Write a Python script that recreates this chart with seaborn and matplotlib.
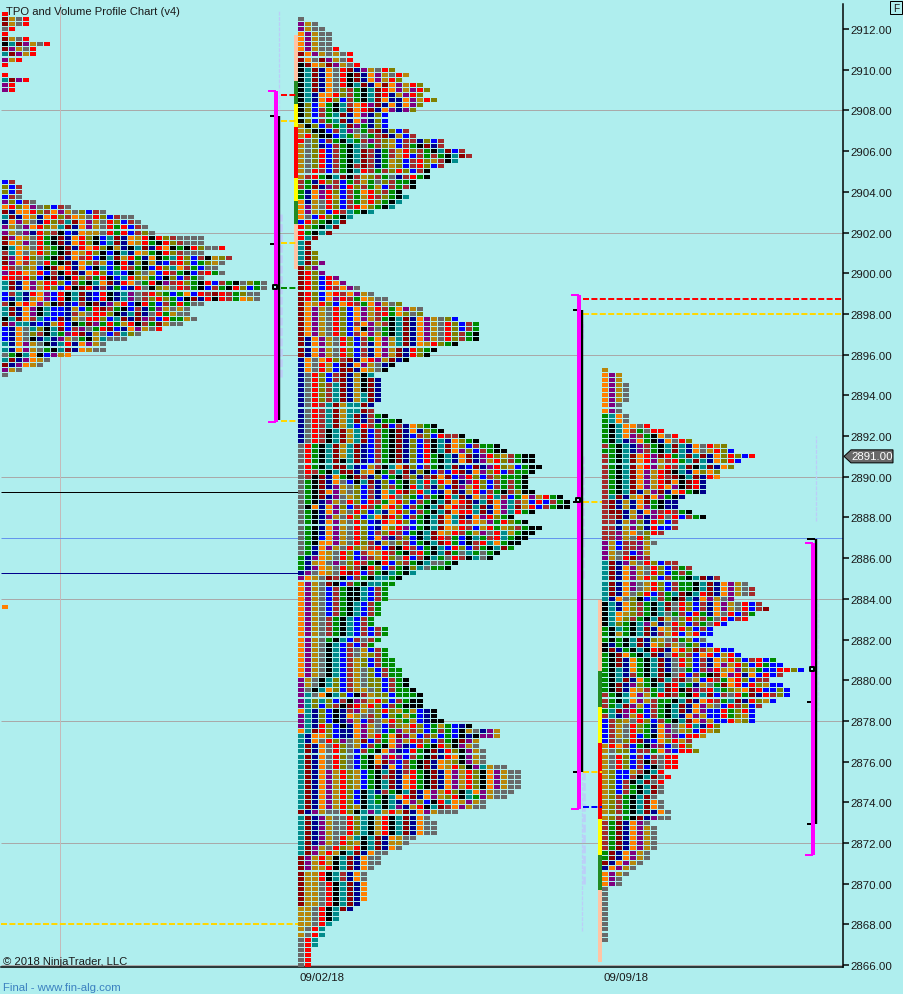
import matplotlib
matplotlib.use("Agg")
import matplotlib.pyplot as plt
from matplotlib.path import Path
from matplotlib.patches import Polygon, Rectangle
from matplotlib.ticker import MultipleLocator, FormatStrFormatter
import pandas as pd
import seaborn as sns

TICK = 0.25
COLORS = dict(k="#000000", r="#FF0000", m="#8B0000", b="#0000FF", n="#00008B", g="#008B00",
              t="#008B8B", o="#FF8000", p="#800080", y="#B8860B", s="#696969", w="#A52A2A", l="#808000")

SLIVER = ["r", "mysr", "mysr", "sr", "r", "mysr", "ktmpy sr", "mpysr", "tmpyr", "pyr", "r", "", "r", "tmpr", "pr", "pr"]
STRAY = ["o"]
LEFT = ["bw", "lbw", "lbw", "bws", "plbws", "orlop slbws", "mnoor lwopy slbws", "tmnoy norlw oysrl bwss",
"nopys nrlwt mopys rlbws", "pyspo rlytm nopys rgrbw s", "pyspn rlwkb noyys rgrbw ls",
"mpoys rgkmn orlkb tmnoy rkrlw ssss", "moyps rgkmn orlkb tmnoy rgkrl wsss",
"ktoys rlgkm nrorl kynkt mnrok gkrls sr", "wtosy rlgkm oyrlk bktno ygkrl wsss",
"mporl sgkmn owrbk tmyrg nokgt rlbwk ylw", "mpowy srgkm nolwy bkrnl kynbw rlbgl ys",
"rwsly bkmor nobkt bgrwg kbrlt owgbs s", "prroy rbwkr mnorl btbkl sybrw gkbwr gs",
"rrwrl bkmnk rlwgr kbtrl ygbkl bwgs", "tmnop yrrlb wgkto mnros grkpw rlgkr bwgks lgs",
"tmnop yrlbr kmrnw ngbnr sklys rwgkb wgkrl bgs", "bwtnr opbrk tmnbr kntps wrlgb gobrw mrwgl ss",
"bntny opbrk tmnbr kntps wlrlg bkmnr krwgo ys", "wkoro pykmn bwkmn pyrbk rgbwg rgss",
"tmnop ktbbn ybgrm wgkbw ngpys ys", "tmnop ktbbn wysrr lkntm nsrgy ss", "ktmow tbbmn ysrrl btmnm pwbrg gys",
"mpttn bnyrb kgmpg rgyrk wgmys s", "bnost lktmb wpsgr mbnop ysr", "bnosl wktgp rmnys bwtls",
"bnosk ntnpy sgkyt sss", "tnopy skntr nopys", "tnopy sgktm noyss", "sgkto kbpyo", "tmnpo ys", "mnpoy s", "pys", "s"]

MIDDLE = ["s", "pys", "pyss", "opyss", "opyss", "opyss", "opyss r", "mopys ysr", "mosmp ysr", "kmoym pysr",
"ktmno srmnp ysrl", "ktmno srkmn opysr y", "ktmno srkmn opyrl", "ktmno srktm nomop yrl", "ktmno slwgk tmrop yprl",
"ktnoo rlwgk tmrny prl", "ktnor lbwgk tmonn opyrl", "klbog ktwor pmnon opl", "klbwg ktmor mnopn pl", "klbwg tmnop nlb",
"klbwg tmnop nlb", "yklbw gtmpg nlb", "ylkkb wtpsg wmnlb w", "yrlkk btgys gwmny bw", "rslbw gktgw pwlyb wwnlb w",
"yslnb wgkts gwlyb wgkmn w", "yslrb wgktm wngwy rlwgk tmbw", "yslrb wgktm wngwy rbwgw gktmw", "yslrb wgktm wngyl bwrly wkt",
"yslrb wgkwm wngyl bwrlb w", "ysrwb wgktr wgwlr lbwk", "ywrgk tmkwy lwgsn wrgk", "wgnrl wbgwy gslwg gk", "wgmnp wbrlw gybwg wk",
"gnopr lbwgo rlwgk", "gnopr ybwgy rwlgk t", "onysr lbwgy rlgkt", "opysr lbwro lgkt", "opylb rwtgk t", "osbrl gkt", "brlgk tm",
"rlgkt m", "rgktm", "rtm", "tm", "tm", "tml", "tml", "tmlp", "mlp", "mrlp", "mrlbr p", "mrlbr op", "mrlbr wops", "mrlbo rwopy s",
"mrlbo prwgo yss", "moyrl borwg opysl", "mopys rlbop yrwgo pys", "mopys rlbop ywrgo lsl", "mopys rlbop ywgkt mnopy slb",
"mopys rlbwo pywkt mnopy srlbw g", "mopys rlbok psgkt mnopy srlbw g", "mopys rlbwo pygkt mnopy srlwg k", "mnopy srlbw gopyt mnopy srlwg k",
"mnopy srlbw nopyt mnoyr lgk", "mnopy srlbw nopym nrlgk", "mnopy srlbw nopym nrlk", "nosor lwmno rpymn k", "nosry bmnop ysnk",
"nosry bmmno ysk", "nsrlb wmnyk t", "nsrlb wmnyk mn", "nsrlw tmnyk mn", "nsrlw tmnyk mn", "nsrlw tmnyt mn", "nsrlw tmnyt mn",
"nsrwt myttm n", "nsrwt myttm w", "nsrwt mytmn wgk", "nsrwt mytmn wnggk", "nsrwt mytbr wgmbw nolgk", "nsrwk tmytm bwgkm nonlg k",
"nsrwk tmytm bwgkm nbwlb rwwk", "nsrwk tmytm bwgkm nlbwk tnolg k", "srgkt mytmn bwgkm nlbrk tmolb wggk", "srgkt mytmn bwgkm nlbrk tmopl bwgkk",
"srgkt mytmn bwgkm nlbrg ktnom nprly wgkk", "srgkt mktmn bwgkm nlbrg ktnom npyrl wgkk", "srgkt mmtnb ywkto mlbwg ktmnb mnprl ybgkk",
"srwgk tmmny okgwt mnlkb wbrmn oplrb wggk", "swkmn ogkmw nlbgk wlnwm ombpr lbwlg ggk", "sgkmn osbkt mnlbg kltrt romnp rlbwg wgk",
"sgkmn pyslb wnlwg krtwn lbmpy rlbwg wgk", "sgkmo pyslb wnotr mlrtb nomny rbwgk wlkk", "sgkmn psylb wnors lgbwg krtmn osrtw bgopy rgk",
"sgknp ysrlb rwgor lbwgk tmorm ntmop twybr bwgk", "skono plbwr wgorl bwgkt morwm tmnop tmyrb wgkk", "sgkno pysrl btnor lbwgk tmorr tmnop trgk",
"sgknp ysrlb tomrl bwgkt motmn oprlg k", "sgkno pysrl bnror lbgkt motrw oypgr lgk", "sgkno pysrl bnolr pbgkt moyrw byrgy lwgkk",
"sgkno pysrl bwlrw bgktm oyrwg ypsrt ygkk", "sgkbo pysrl bopnw lbktm rwgbk tgwrt gkk", "sgkoo pysrl wnysl wbgkt mrgbk wrtog kk",
"sgnop ysrly wrbmk rwbgk tbrlb wgktm g", "sgnoy srlbw oyrwg kwrgk tmgst gsgk", "gnpoy srlbp wyrls rbwkt gsrwk tsk", "gnyos pslrw gkrbl wgkts sgk",
"gnpoy srlwk rlbwg kltsg gk", "npsoy srmrb wgktg kt", "poysm wkbwg kttgk", "opysm kbwgk ttgg", "opysb wgkkt bwg", "opysb wgkkt bwg", "opysb wgkkt bwg",
"opysb wgktb wg", "opysb wgktb wg", "opysb wgktb wg", "opysw gktbw g", "opysw gktbw g", "opysw gktbw bwg", "opysw gktbw bwg", "opysg ktbws wg",
"opysk tbwbw g", "opysk tbwsy bwg", "opysk tbwsy lwg", "opysk tbwyl bwgg", "opysk tbwyl bwgg", "opysk tbwys lbwgg", "opysk tbwys lbwgg",
"pyskt lbwys llbwg k", "pyskt lbwys llbwg k", "pskto lbwyy slbwg gk", "ptsok tlbkw yllbg ggk", "ptltl bwkpw yrlbw gkk", "ptlbl wkmry rlbwg kkk",
"otnlb knwpy slrly gybnk", "ptnlb knoys wlblg ygbnk", "ptnlb knpyb wsyrl gybnk k", "ptnrl bknop ysbwl yrlbg ygbnk",
"otmrl bnnop ysbgp ywlbg wgbky snpy", "tnool bnnop yrgom pybwl bgbkn kppy", "tnosr lpsym bwgop yrwlb wgkmp y", "tmnos rlsyb wgkop nbrgk rlkpy s",
"tmnos rlsbw gkopn brgkm nrlkp ys", "tmnos rlsbg koprp bwgkm nrokp ys", "tmnos rlsbg kompb wgkmn oylkp ys", "tmnos rlsbg kmnob wgkmn oyrlk ptyss",
"tmnop yrlyb gktmn wrgkm nopyr lkopy ss", "tmnop yrlyb gkwmn orgkm nopyr lkopy ss", "tmnop yrlyb gktmn orgkm nopyr lkopy ss", "tmnop yrlyb gktmn orgkm nopyr lkopy ss",
"tmnop yrlbk tnwgk tmnop yrlkt opyss s", "tmnop yrlbk tgkto rmnop ylrkt gpyss", "tmnop yrlbk tgktn oplbk rtoyp ys", "tmnop yrlyk ttktp nyrkt mwopy ss",
"mnpys srlkt ptyry mnopy sss", "tmnpy ssrlt kyrkt mnos", "tmnpy ssrlt kyrkt mnoss", "tmnpy ssrlt kyrkt mnoss", "tmnpy ssrlt kyrkt mnoss", "tmnpy srytk tmnoy ss",
"tmnpy srlyk tmnyy s", "tmpys rlyrk tmnos", "tmpyr yktmn oss", "mpyry ktmno ss", "mpyry ktmno ss", "mpyyr ktmno s", "myyrk twnos", "myyrk twnos", "myysr ktmno",
"myysr ktmno", "myysr ktmno", "myysr ktmno", "myysr ktmn", "yysrk tmn", "yysrk t", "yysrk t", "yysrt", "ysrt", "ysrt", "srt", "srt", "sr", "sr", "sr", "sr"]

RIGHT = ["y", "opy", "opy", "opys", "opys", "opys", "opys", "ops", "ops", "gtos", "gtos", "gktoo sr", "gktow gsrr", "gktop wgkos r", "gktnp ogkno srl",
"wgktn pwgkt mtnos ryl", "ggktn pwgkt mtnos yrlb", "wgktm orpmr gtmtm nolrl br", "wgktm orpyw rgtmt nolrb", "wgktm orpyr wtmkt mnol", "wgktm opyrm ktnol ol",
"wgktm opyrw mktmn ro", "wgktm opyrm okmrn", "wgktm opyro pkmrn", "wgktm nypmn orgkn", "wtmny omopg kn", "wmnyn omgkn n", "wmnyn opgkn n", "wmmny nopwr wgk",
"wwmny pnprs rbwgk", "wwnyp lnrlb w", "wwnyp lnrbb w", "wwpyo slrw", "wwpys rl", "pybww pys", "pybww py", "pyswb py", "pysrm pw", "tmnpy srlbw w",
"tmnop ysrlb wgw", "tmnop ysrlb gwg", "tmnop yrlbw ggktm nw", "tmnop syrlb wggkt mnopy s", "tmnop syrlb wggkt mnopy sw", "tmnos lrbwg tmktr mnopy sw", "tnosl kbtwg kmtno pysp",
"ktnol wgktm srlbw nopys rbw", "ktnol wgktm srlbw nopys rbwm", "ktoyl wgkts gwbrg nosrb wg", "ktolw gktmy slrlw gsrbw r", "ktlgk tpyns rlbwg srb",
"gktgk tmnoy wrlbw b", "gkygk tmnwy rbyrb b", "gkgkt mnlys wglbs", "kngkt mnolw ysglb b", "kmngk tkrmn orlmw yrbb", "gkmog ktmns rlwbo rbyrb",
"gkmno gktmn srlbw noyrl bwrbg", "gkmno gktmn srlbw nopyr lbrgb b", "gktno gktmn ssgbw pryop lygbb rrlb", "gktnw gktmk srbwg kmopr nobrb w", "gktmn ogkmt wmsyb rwgor lbww",
"gkmnp lgktm rtgny sgmor brlyb b", "gkmno ywgtm rkmpw rtgly omrbb lb", "wgkto pygrm wgkrt mbwsr gmnrw lb", "wgkto pywgg ktmno rwgtm nrlyb", "wgtmp ybwgk tmnop ysbrw lbw",
"gtmpr gbwgk tmnop bbrgl rb", "wtnpy rbwgk tnopy bbrgl yb", "bwlys rlbwg ktmop ybbry lb", "bwysr lgnop syrtn rl", "bwysr lgnop sylbr yl", "bwysr bgkow pbrry",
"bwslr mnbol ryw", "yrowb gkpwb srl", "ysllb wwgop brrl", "ysrlb wbwsr r", "ysrlb wkwsr r", "ysrlb wbksr r", "ylbby wktr", "ylbbw ktmsr", "ylbwk tmsr", "ylbwg ktms", "ylbwg ktms",
"ylwgk tms", "ylwgk tmos", "ylwgk tmos", "ylwgk tmnos", "ylwgk mnpss", "wgmno ps", "wgmno pys", "wgmno pys", "wgmno pys", "wgmno pys", "wgmno pys", "gmnop ys", "gmnop ys", "mnopy s", "nopys", "opys", "ops", "ops",
"s", "s", "s", "s", "s", "s", "s", "s", "s", "s", "s"]

PROFILES = [(SLIVER, 2912.75, 5), (STRAY, 2883.6, 5), (LEFT, 2904.5, 5), (MIDDLE, 2912.5, 301), (RIGHT, 2895.25, 605)]

GRID_LEVELS = [2908, 2902, 2896, 2890, 2884, 2878, 2872, 2866]
SIDE_BARS = [
    (296, [2911.7, 2909.45, 2908.3, 2907.2, 2904.7, 2903.55, 2902.4, 2900.2]),
    (600, [2883.94, 2880.45, 2878.68, 2876.91, 2873.18, 2871.41, 2869.69, 2866.15]),
]
SIDE_COLORS = ["#FFC4A4", "#228B22", "#FFFF00", "#FF0000", "#FFFF00", "#228B22", "#FFC4A4"]
RANGES_MAGENTA = [(276, 2908.95, 2892.7), (579, 2898.95, 2873.67), (813, 2886.74, 2871.41)]
RANGES_BLACK = [(279, 2907.72, 2892.79), (582, 2898.2, 2875.49), (816, 2886.94, 2872.93)]
BLACK_TICKS = [(270, 274, 2907.72), (270, 274, 2901.45), (573, 577, 2898.2), (573, 577, 2875.49),
               (573, 577, 2888.75), (807, 815, 2886.94), (807, 811, 2878.93), (807, 811, 2872.93)]
DASHES = [(281, 298, 2908.75, "#FF0000"), (281, 298, 2907.5, "#FFD700"), (281, 298, 2901.5, "#FFD700"),
          (281, 298, 2899.25, "#008B00"), (281, 298, 2892.75, "#FFD700"), (1, 298, 2868.0, "#FFD700"),
          (583, 843, 2898.75, "#FF0000"), (583, 843, 2898.0, "#FFD700"), (583, 602, 2888.75, "#FFD700"),
          (583, 602, 2875.5, "#FFD700"), (583, 602, 2873.75, "#0000FF")]
SOLID = [(1, 298, 2889.25, "#000000"), (1, 298, 2885.25, "#00008B"), (1, 843, 2887.0, "#6495ED")]
LAVENDER = [(279, 2912.9, 2907.8, 1), (281, 2902.9, 2894.9, 2), (583, 2897.6, 2896.8, 1), (583, 2891.0, 2885.0, 2),
            (582, 2875.6, 2867.7, 1), (584, 2875.6, 2870.0, 2), (816, 2892.0, 2887.8, 1), (818, 2884.0, 2878.5, 1)]
NODES_X = [275, 578, 812]
NODES_Y = [2899.3, 2888.85, 2880.55]
BRACKET_CAPS = [(268, 276, 2908.95), (268, 276, 2892.7), (571, 579, 2898.95), (571, 579, 2873.67),
                (805, 813, 2886.74), (805, 813, 2871.41)]
LAST_PRICE = 2891.0
DATE_LABELS = ["09/02/18", "09/09/18"]
DATE_X = [300, 604]

rows = []
for profile, top, x0 in PROFILES:
    for i, row in enumerate(profile):
        for j, code in enumerate(row.replace(" ", "")):
            rows.append((x0 + 7 * j, top - i * TICK, code))
cells = pd.DataFrame(rows, columns=["x", "price", "code"])

W, H = 904, 995
BG = "#AFEEEE"
FONT = "Liberation Sans"
sns.set_style("white")
plt.rcParams["font.family"] = [FONT, "DejaVu Sans"]
fig = plt.figure(figsize=(W / 100, H / 100), dpi=100, facecolor=BG)
ax = fig.add_axes([1 / W, 1 - 968 / H, 842 / W, 963 / H], facecolor=BG)
ax.set_xlim(1, 843)
ax.set_ylim(2865.907, 2913.229)
px = 0.72

ax.hlines(GRID_LEVELS, 1, 843, color="#A9A9A9", lw=1.0 * px, zorder=1)
ax.vlines([60], 2865.907, 2913.229, color="#C4BABA", lw=1.0 * px, zorder=1)
for x, y0, y1, w in LAVENDER:
    ax.vlines(x, y1, y0, color="#BCCDF8", lw=w * 1.3 * px, linestyles=(0, (3, 1)), zorder=1.5)
for x0, x1, y, c in SOLID:
    ax.hlines(y, x0, x1, color=c, lw=1.0 * px, zorder=1.6)
for x, edges in SIDE_BARS:
    for top, bot, c in zip(edges[:-1], edges[1:], SIDE_COLORS):
        ax.vlines(x, bot, top, color=c, lw=4 * px, capstyle="butt", zorder=2)

marker = Path([(-3, -2), (3, -2), (3, 2), (-3, 2), (-3, -2)], closed=True)
sns.scatterplot(data=cells, x="x", y="price", hue="code", palette=COLORS, marker=marker,
                s=(6 * px) ** 2, linewidth=0, legend=False, ax=ax, zorder=3, antialiased=True, snap=True)

for x0, x1, y, c in DASHES:
    ax.plot([x0, x1], [y, y], color=c, lw=2 * px, linestyle=(0, (3, 1.2)), dash_capstyle="butt", zorder=4)
for x, top, bot in RANGES_BLACK:
    ax.vlines(x, bot, top, color="black", lw=2.4 * px, capstyle="butt", zorder=4)
for x0, x1, y in BLACK_TICKS:
    ax.hlines(y, x0, x1, color="black", lw=2 * px, capstyle="butt", zorder=4)
for x, top, bot in RANGES_MAGENTA:
    ax.vlines(x, bot, top, color="#FF00FF", lw=4 * px, capstyle="butt", zorder=5)
for x0, x1, y in BRACKET_CAPS:
    ax.hlines(y, x0, x1, color="#FF00FF", lw=2 * px, capstyle="butt", zorder=5)
sns.scatterplot(x=NODES_X, y=NODES_Y, marker="s", s=(5 * px) ** 2, color=BG, edgecolor="black",
                linewidth=2 * px, legend=False, ax=ax, zorder=6)

for name in ("top", "left"):
    ax.spines[name].set_visible(False)
for name in ("right", "bottom"):
    ax.spines[name].set_visible(True)
    ax.spines[name].set_color("black")
    ax.spines[name].set_linewidth(1.5 * px)
ax.set_xlabel("")
ax.set_ylabel("")
ax.yaxis.tick_right()
ax.yaxis.set_major_locator(MultipleLocator(2))
ax.yaxis.set_major_formatter(FormatStrFormatter("%.2f"))
ax.tick_params(axis="y", length=6 * px, width=1.5 * px, pad=1.2, labelsize=11.5 * px, labelcolor="#1A1A1A", color="black", right=True)
ax.set_xticks(DATE_X)
ax.set_xticklabels(DATE_LABELS, ha="left", fontsize=11.5 * px, color="#1A1A1A")
ax.tick_params(axis="x", length=0, pad=3.5, bottom=True)

py = 20.35
tag = Polygon([(844, LAST_PRICE), (851, LAST_PRICE + 6.5 / py), (893, LAST_PRICE + 6.5 / py),
               (893, LAST_PRICE - 6.5 / py), (851, LAST_PRICE - 6.5 / py)],
              closed=True, facecolor="#696969", edgecolor="black", lw=1 * px, clip_on=False, zorder=7)
ax.add_patch(tag)
ax.text(872, LAST_PRICE, f"{LAST_PRICE:.2f}", color="white", ha="center", va="center", fontsize=11.5 * px, zorder=8, clip_on=False)

fig.add_artist(Rectangle((890 / W, 1 - 15 / H), 12 / W, 13 / H, transform=fig.transFigure, facecolor="none", edgecolor="black", lw=1 * px))
fig.text(896 / W, 1 - 8.8 / H, "F", ha="center", va="center", fontsize=10 * px, color="#1A1A1A")
fig.text(6 / W, 1 - 12 / H, "TPO and Volume Profile Chart (v4)", ha="left", va="center", fontsize=11.2 * px, color="#1A1A1A")
fig.text(3 / W, 1 - 962 / H, "\u00a9 2018 NinjaTrader, LLC", ha="left", va="center", fontsize=11.2 * px, color="#1A1A1A", zorder=9)
fig.text(3 / W, 1 - 988 / H, "Final - www.fin-alg.com", ha="left", va="center", fontsize=11.4 * px, color="#3A80C0")

fig.savefig("out.png", dpi=100, facecolor=BG)
